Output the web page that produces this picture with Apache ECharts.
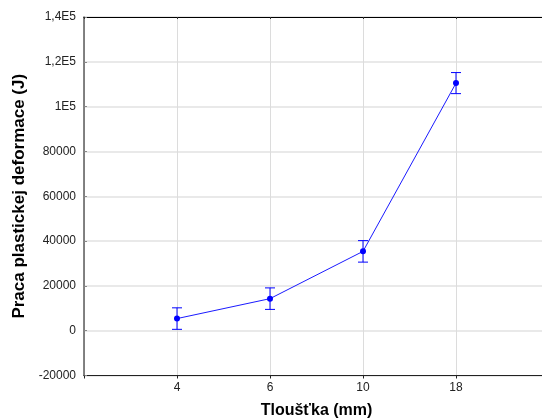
<!DOCTYPE html>
<html>
<head>
<meta charset="utf-8">
<script src="https://cdn.jsdelivr.net/npm/echarts@6/dist/echarts.min.js"></script>
<style>
  html, body { margin: 0; padding: 0; background: #fff; }
  #chart { width: 542px; height: 420px; }
</style>
</head>
<body>
<div id="chart"></div>
<script>
// Plate thickness (mm) and mean plastic deformation work (J) with ± error
var categories = ['4', '6', '10', '18'];
var meanValues = [5400, 14300, 35400, 110500];
var errorValues = [4800, 4800, 4800, 4700];
var yTickLabels = {
  '140000': '1,4E5',
  '120000': '1,2E5',
  '100000': '1E5'
};

// pad the category axis with an empty slot on each side
var axisData = [''].concat(categories, ['']);
var lineData = [null].concat(meanValues, [null]);
var errData = categories.map(function (c, i) {
  return [i + 1, meanValues[i] - errorValues[i], meanValues[i] + errorValues[i]];
});

var FONT = '"Liberation Sans", Arial, sans-serif';
var chart = echarts.init(document.getElementById('chart'), null, { renderer: 'canvas' });

chart.setOption({
  animation: false,
  backgroundColor: '#fff',
  grid: { left: 84, top: 17, width: 465, height: 358.5, containLabel: false, outerBoundsMode: 'none' },
  xAxis: [{
    type: 'category',
    data: axisData,
    boundaryGap: false,
    position: 'bottom',
    name: 'Tloušťka (mm)',
    nameLocation: 'middle',
    nameGap: 27,
    nameTextStyle: { fontFamily: FONT, fontSize: 16, fontWeight: 'bold', color: '#000' },
    axisLine: { onZero: false, lineStyle: { color: '#222', width: 1.2 } },
    axisTick: { show: true, inside: false, length: 3, lineStyle: { color: '#222' }, alignWithLabel: true },
    axisLabel: { fontFamily: FONT, fontSize: 12, color: '#222', margin: 6, interval: 0 },
    splitLine: { show: true, interval: 0, lineStyle: { color: '#dcdcdc', width: 1 } }
  }, {
    type: 'category',
    data: axisData,
    boundaryGap: false,
    position: 'top',
    axisLine: { onZero: false, lineStyle: { color: '#000', width: 1.2 } },
    axisTick: { show: true, inside: true, length: 2, lineStyle: { color: '#333' } },
    axisLabel: { show: false },
    splitLine: { show: false }
  }],
  yAxis: {
    type: 'value',
    min: -20000,
    max: 140000,
    interval: 20000,
    name: 'Praca plastickej deformace (J)',
    nameLocation: 'middle',
    nameGap: 55,
    nameRotate: 90,
    nameTextStyle: { fontFamily: FONT, fontSize: 17, fontWeight: 'bold', color: '#000' },
    axisLine: { show: true, onZero: false, lineStyle: { color: '#666', width: 1.6 } },
    axisTick: { show: true, inside: true, length: 3, lineStyle: { color: '#888' } },
    axisLabel: {
      fontFamily: FONT, fontSize: 12, color: '#222', margin: 8,
      formatter: function (v) { return yTickLabels[String(v)] || String(v); }
    },
    splitLine: { show: true, lineStyle: { color: '#e2e2e2', width: 1.5 } }
  },
  series: [{
    type: 'line',
    data: lineData,
    connectNulls: false,
    symbol: 'circle',
    symbolSize: 6,
    showSymbol: true,
    lineStyle: { color: '#1a1aff', width: 1 },
    itemStyle: { color: '#0000ff' },
    z: 3
  }, {
    type: 'custom',
    data: errData,
    z: 4,
    renderItem: function (params, api) {
      var x = api.value(0);
      var lo = api.coord([x, api.value(1)]);
      var hi = api.coord([x, api.value(2)]);
      var half = 5;
      var style = { stroke: '#0000ff', lineWidth: 1 };
      return {
        type: 'group',
        children: [
          { type: 'line', shape: { x1: hi[0], y1: hi[1], x2: lo[0], y2: lo[1] }, style: style },
          { type: 'line', shape: { x1: hi[0] - half, y1: hi[1], x2: hi[0] + half, y2: hi[1] }, style: style },
          { type: 'line', shape: { x1: lo[0] - half, y1: lo[1], x2: lo[0] + half, y2: lo[1] }, style: style }
        ]
      };
    }
  }]
});
</script>
</body>
</html>
